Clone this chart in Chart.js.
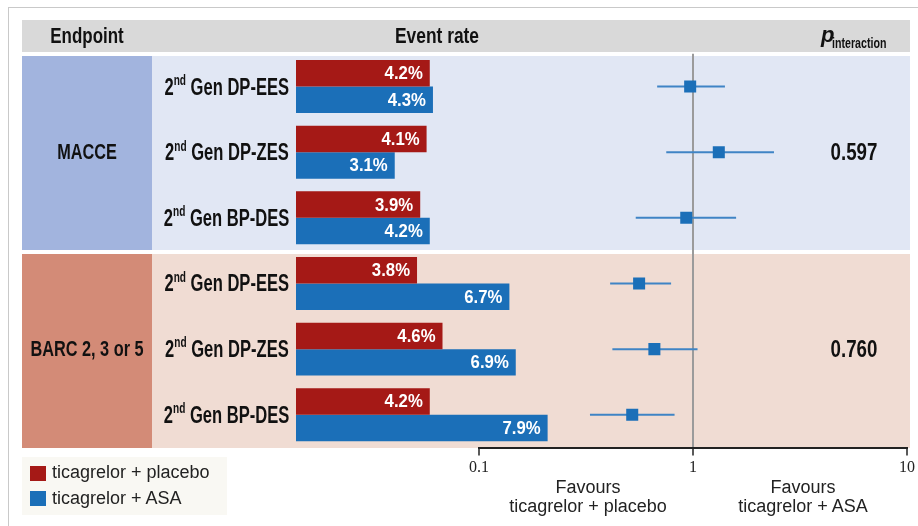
<!DOCTYPE html>
<html>
<head>
<meta charset="utf-8">
<script src="https://cdn.jsdelivr.net/npm/chart.js@4/dist/chart.umd.min.js"></script>
<style>
  html, body { margin: 0; padding: 0; background: #fff; }
  #wrap { position: relative; width: 918px; height: 526px; overflow: hidden;
          font-family: "Liberation Sans", Arial, sans-serif; color: #111; }
  .box { position: absolute; }
  canvas { position: absolute; left: 0; top: 0; }
  .txt { position: absolute; white-space: nowrap; z-index: 5; line-height: 1; font-weight: bold; }
  .center { transform: translate(-50%, -50%) scaleX(var(--sx, 1)); }
  .rowlbl { transform: translateY(-50%) scaleX(var(--sx, 1)); transform-origin: right center; }
  .left { transform: scaleX(var(--sx, 1)); transform-origin: left center; }
  sup { font-size: 14px; line-height: 0; position: relative; top: -1px; vertical-align: super; }
  .legend-item { position: absolute; left: 30px; font-size: 18px; color: #222; white-space: nowrap; z-index: 5; }
  .swatch { position: absolute; left: 0; top: 0; width: 16px; height: 15px; }
  .caption { position: absolute; font-size: 18px; color: #222; white-space: nowrap;
             text-align: center; line-height: 19px; transform: translateX(-50%); z-index: 5; }
</style>
</head>
<body>
<div id="wrap">
  <!-- outer frame -->
  <div class="box" style="left:8px;top:7px;width:910px;height:1px;background:#c9c9c9"></div>
  <div class="box" style="left:8px;top:7px;width:1px;height:519px;background:#c9c9c9"></div>

  <!-- header band -->
  <div class="box" style="left:22px;top:20px;width:888px;height:32px;background:#d9d9d9"></div>

  <!-- MACCE panel -->
  <div class="box" style="left:22px;top:56px;width:130px;height:194px;background:#a2b4de"></div>
  <div class="box" style="left:152px;top:56px;width:758px;height:194px;background:#e1e7f4"></div>
  <!-- bleeding panel -->
  <div class="box" style="left:22px;top:254px;width:130px;height:193.5px;background:#d38b77"></div>
  <div class="box" style="left:152px;top:254px;width:758px;height:193.5px;background:#f0dcd3"></div>

  <!-- legend background -->
  <div class="box" style="left:22px;top:457px;width:205px;height:58px;background:#f9f8f3"></div>

  <canvas id="bars" width="918" height="526"></canvas>
  <canvas id="forest" width="918" height="526"></canvas>

  <div id="labels"></div>
</div>

<script>
// Study endpoints and stent subgroups
const endpoints = ['MACCE', 'BARC 2, 3 or 5'];
const stentTypes = ['DP-EES', 'DP-ZES', 'BP-DES'];
const seriesNames = ['ticagrelor + placebo', 'ticagrelor + ASA'];

// Event rates (%) per subgroup row, MACCE rows first then bleeding rows
const placeboRate = [4.2, 4.1, 3.9, 3.8, 4.6, 4.2];
const asaRate     = [4.3, 3.1, 4.2, 6.7, 6.9, 7.9];

// Hazard ratios with 95% confidence limits
const hazardRatio = [0.97, 1.32, 0.93, 0.56, 0.66, 0.52];
const ciLower     = [0.68, 0.75, 0.54, 0.41, 0.42, 0.33];
const ciUpper     = [1.41, 2.39, 1.59, 0.79, 1.05, 0.82];

// Interaction p values per endpoint
const pInteraction = ['0.597', '0.760'];

// Hazard-ratio axis ticks
const hrTicks = [0.1, 1, 10];

const RED = '#a51916';
const BLUE = '#1b6fb8';
const CI_BLUE = '#3f84c5';
const FONT = '"Liberation Sans", Arial, sans-serif';

const rows = endpoints.flatMap(() => stentTypes);
const plotTop = 53.7, plotBottom = 447.6, axisHeight = 40;

// White value labels inside the end of each bar
const valueLabels = {
  id: 'valueLabels',
  afterDatasetsDraw(chart) {
    const ctx = chart.ctx;
    chart.data.datasets.forEach((ds, di) => {
      chart.getDatasetMeta(di).data.forEach((bar, i) => {
        ctx.save();
        ctx.font = 'bold 18px ' + FONT;
        ctx.fillStyle = '#fff';
        ctx.textAlign = 'right';
        ctx.textBaseline = 'middle';
        ctx.translate(bar.x - 7, bar.y + 1);
        ctx.scale(0.93, 1);
        ctx.fillText(ds.data[i].toFixed(1) + '%', 0, 0);
        ctx.restore();
      });
    });
  }
};

const barChart = new Chart(document.getElementById('bars'), {
  type: 'bar',
  data: {
    labels: rows,
    datasets: [
      { label: seriesNames[0], data: placeboRate, backgroundColor: RED, borderWidth: 0,
        categoryPercentage: 0.807, barPercentage: 1 },
      { label: seriesNames[1], data: asaRate, backgroundColor: BLUE, borderWidth: 0,
        categoryPercentage: 0.807, barPercentage: 1 }
    ]
  },
  options: {
    indexAxis: 'y',
    responsive: false,
    animation: false,
    events: [],
    layout: { padding: { left: 296, right: 918 - 296 - 318.5, top: plotTop, bottom: 526 - plotBottom } },
    plugins: { legend: { display: false }, tooltip: { enabled: false } },
    scales: {
      x: { display: false, min: 0, max: 10 },
      y: { display: false }
    }
  },
  plugins: [valueLabels]
});

const forestChart = new Chart(document.getElementById('forest'), {
  type: 'scatter',
  data: {
    datasets: [
      { data: hazardRatio.map((v, i) => ({ x: v, y: i })), pointStyle: 'rect', pointRadius: 8.5,
        pointBorderWidth: 0, backgroundColor: BLUE, borderColor: BLUE, order: 0 },
      ...hazardRatio.map((v, i) => ({
        data: [{ x: ciLower[i], y: i }, { x: ciUpper[i], y: i }],
        showLine: true, borderColor: CI_BLUE, borderWidth: 2, pointRadius: 0, order: 1
      }))
    ]
  },
  options: {
    responsive: false,
    animation: false,
    events: [],
    layout: { padding: { left: 479, right: 918 - 908.3, top: plotTop, bottom: 526 - plotBottom - axisHeight } },
    plugins: { legend: { display: false }, tooltip: { enabled: false } },
    scales: {
      y: { display: false, min: -0.5, max: 5.5, reverse: true },
      x: {
        type: 'logarithmic', min: 0.1, max: 10, position: 'bottom',
        afterBuildTicks: s => { s.ticks = hrTicks.map(v => ({ value: v })); },
        afterFit: s => { s.height = axisHeight; },
        border: { display: true, color: '#222', width: 2 },
        grid: {
          drawOnChartArea: true,
          color: c => (c.tick && c.tick.value === 1) ? '#9b9b9b' : 'rgba(0,0,0,0)',
          lineWidth: 2, drawTicks: true, tickLength: 8, tickColor: '#222', tickWidth: 1.5
        },
        ticks: { font: { family: '"Liberation Serif", "Times New Roman", serif', size: 16 }, color: '#222',
                 padding: 3, maxRotation: 0, autoSkip: false, callback: v => String(v) }
      }
    }
  }
});

// Text labels placed from the chart scales
const yScale = barChart.scales.y;
const xHR = forestChart.scales.x;
let html = '';
html += `<div class="txt center" style="left:87px;top:36px;font-size:22px;--sx:0.77">Endpoint</div>`;
html += `<div class="txt center" style="left:437px;top:36px;font-size:22px;--sx:0.79">Event rate</div>`;
html += `<div class="txt" style="left:821px;top:23.5px;font-size:22px;font-style:italic">p</div>`;
html += `<div class="txt left" style="left:832px;top:36.4px;font-size:14px;--sx:0.76">interaction</div>`;

rows.forEach((name, i) => {
  const y = yScale.getPixelForValue(i);
  html += `<div class="txt rowlbl" style="right:${918 - 289}px;top:${y}px;font-size:23px;--sx:0.72">2<sup>nd</sup> Gen ${name}</div>`;
});
endpoints.forEach((name, g) => {
  const y = (yScale.getPixelForValue(g * 3) + yScale.getPixelForValue(g * 3 + 2)) / 2;
  html += `<div class="txt center" style="left:87px;top:${y}px;font-size:22px;--sx:0.74">${name}</div>`;
  html += `<div class="txt center" style="left:854px;top:${y}px;font-size:24px;--sx:0.78">${pInteraction[g]}</div>`;
});

// Legend
[RED, BLUE].forEach((c, i) => {
  html += `<div class="legend-item" style="top:${464 + i * 25.5}px">` +
          `<span class="swatch" style="background:${c};top:1.5px"></span>` +
          `<span style="position:relative;left:22px;top:-2px">${seriesNames[i]}</span></div>`;
});

// Favours captions centred in each half of the hazard-ratio axis
const leftMid = Math.sqrt(hrTicks[0] * hrTicks[1]);
const rightMid = Math.sqrt(hrTicks[1] * hrTicks[2]);
html += `<div class="caption" style="left:${xHR.getPixelForValue(leftMid) + 2}px;top:478px">Favours<br>${seriesNames[0]}</div>`;
html += `<div class="caption" style="left:${xHR.getPixelForValue(rightMid) + 3}px;top:478px">Favours<br>${seriesNames[1]}</div>`;

document.getElementById('labels').innerHTML = html;
</script>
</body>
</html>
